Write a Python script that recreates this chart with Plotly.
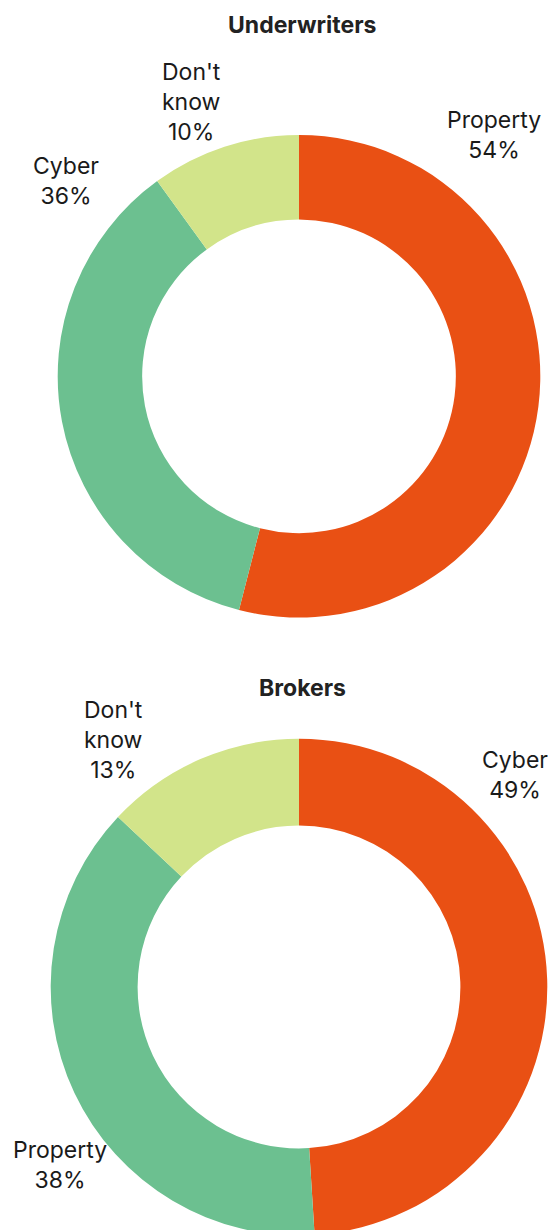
import plotly.graph_objects as go

# data
uw_labels = ["Property", "Cyber", "Don't know"]
uw_values = [54, 36, 10]
br_labels = ["Cyber", "Property", "Don't know"]
br_values = [49, 38, 13]
slice_colors = ["#E95014", "#6CC090", "#D2E48A"]

W, H = 556, 1240
OFF = 8  # page body margin in the browser
FONT = "Inter, 'Open Sans', sans-serif"


def px_x(x):
    return (x - OFF) / W


def px_y(y):
    return 1 - (y - OFF) / H


def donut_domain(cx, cy, r):
    # domain (paper units) from a centre / radius measured on the page
    return dict(x=[px_x(cx - r), px_x(cx + r)],
                y=[max(0.0, px_y(cy + r)), px_y(cy - r)])


fig = go.Figure()

# top donut
fig.add_trace(go.Pie(
    labels=uw_labels, values=uw_values, sort=False, direction="clockwise",
    hole=0.65, textinfo="none", hoverinfo="label+percent",
    marker=dict(colors=slice_colors, line=dict(width=0)),
    domain=donut_domain(299, 376.3, 241.3),
    showlegend=False,
))
# bottom donut
fig.add_trace(go.Pie(
    labels=br_labels, values=br_values, sort=False, direction="clockwise",
    hole=0.65, textinfo="none", hoverinfo="label+percent",
    marker=dict(colors=slice_colors, line=dict(width=0)),
    domain=donut_domain(299, 987, 248.3),
    showlegend=False,
))

# label placement (page pixel centres of the text blocks)
uw_pos = {"Property": (494, 135), "Cyber": (66, 181), "Don't know": (191, 102)}
br_pos = {"Cyber": (515, 775), "Property": (60, 1165), "Don't know": (113, 740)}

annots = []
for labs, vals, pos in [(uw_labels, uw_values, uw_pos), (br_labels, br_values, br_pos)]:
    for lab, val in zip(labs, vals):
        px, py = pos[lab]
        txt = lab.replace(" ", "<br>") if lab == "Don't know" else lab
        annots.append(dict(
            x=px_x(px), y=px_y(py), xref="paper", yref="paper",
            xanchor="center", yanchor="middle", showarrow=False,
            text=f"{txt}<br>{val}%", align="center",
            font=dict(family=FONT, size=23, color="#1a1a1a"),
        ))

# titles
for title, py in [("Underwriters", 25), ("Brokers", 688)]:
    annots.append(dict(
        x=px_x(302), y=px_y(py), xref="paper", yref="paper",
        xanchor="center", yanchor="middle", showarrow=False,
        text=f"<b>{title}</b>",
        font=dict(family=FONT, size=23, color="#222222"),
    ))

fig.update_layout(
    width=W, height=H,
    margin=dict(l=0, r=0, t=0, b=0),
    paper_bgcolor="white", plot_bgcolor="white",
    annotations=annots,
)

fig.write_html("out.html")
